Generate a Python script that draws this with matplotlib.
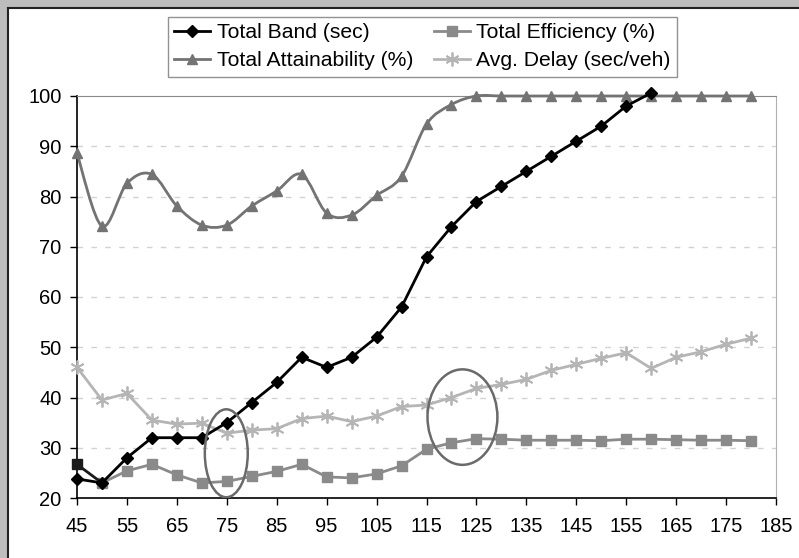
import matplotlib
matplotlib.use("Agg")
import matplotlib.pyplot as plt
from matplotlib.patches import Ellipse, Rectangle, PathPatch
from matplotlib.path import Path
from matplotlib.lines import Line2D

plt.rcParams['font.family'] = ['Liberation Sans', 'DejaVu Sans']

x = [45, 50, 55, 60, 65, 70, 75, 80, 85, 90, 95, 100, 105, 110, 115, 120,
     125, 130, 135, 140, 145, 150, 155, 160, 165, 170, 175, 180]

band_x = x[:24]
band = [23.8, 23.0, 28.0, 32.0, 32.0, 32.0, 35.0, 39.0, 43.0, 48.0, 46.0, 48.0,
        52.0, 58.0, 68.0, 74.0, 79.0, 82.0, 85.0, 88.0, 91.0, 94.0, 98.0, 100.6]

efficiency = [26.7, 23.0, 25.4, 26.7, 24.6, 23.0, 23.3, 24.3, 25.3, 26.7, 24.2, 24.0,
              24.8, 26.4, 29.7, 31.0, 31.8, 31.7, 31.5, 31.5, 31.5, 31.4, 31.7, 31.7,
              31.6, 31.5, 31.5, 31.4]

attainability = [88.6, 74.1, 82.6, 84.4, 78.1, 74.3, 74.3, 78.1, 81.1, 84.4, 76.7, 76.3,
                 80.2, 84.0, 94.4, 98.3, 100, 100, 100, 100, 100, 100, 100, 100,
                 100, 100, 100, 100]

delay = [46.0, 39.5, 40.8, 35.5, 34.7, 34.9, 32.9, 33.5, 33.8, 35.8, 36.3, 35.2,
         36.3, 38.2, 38.5, 40.0, 41.8, 42.6, 43.6, 45.4, 46.6, 47.8, 48.9, 45.8,
         48.0, 49.1, 50.6, 51.8]

xticks = list(range(45, 186, 10))
yticks = list(range(20, 101, 10))


def smooth_path(xs, ys):
    """Excel-style smoothed line through the data points (cubic Bezier segments)."""
    n = len(xs)
    verts = [(xs[0], ys[0])]
    codes = [Path.MOVETO]
    for i in range(n - 1):
        i0 = max(i - 1, 0)
        i3 = min(i + 2, n - 1)
        c1 = (xs[i] + (xs[i + 1] - xs[i0]) / 6.0, ys[i] + (ys[i + 1] - ys[i0]) / 6.0)
        c2 = (xs[i + 1] - (xs[i3] - xs[i]) / 6.0, ys[i + 1] - (ys[i3] - ys[i]) / 6.0)
        verts += [c1, c2, (xs[i + 1], ys[i + 1])]
        codes += [Path.CURVE4] * 3
    return Path(verts, codes)


fig = plt.figure(figsize=(7.99, 5.58), dpi=100)
fig.patch.set_facecolor('#bdbdbd')

bg = fig.add_axes([0, 0, 1, 1], zorder=-5)
bg.set_xlim(0, 799)
bg.set_ylim(558, 0)
bg.axis('off')
bg.add_patch(Rectangle((8, 8), 799, 558, facecolor='white', edgecolor='none'))
bg.plot([8, 8], [8, 558], color='#222222', lw=1.5)
bg.plot([8, 799], [8, 8], color='#222222', lw=1.5)

ax = fig.add_axes([77/799, 1 - 498/558, (776 - 77)/799, (498 - 96)/558], zorder=2)
ax.set_facecolor('white')

c_band, c_att, c_eff, c_del = 'black', '#737373', '#8a8a8a', '#b5b5b5'

# Total Band (straight segments)
ax.plot(band_x, band, color=c_band, lw=2, marker='D', ms=6.5, zorder=6, clip_on=False)

# Total Attainability (smoothed)
ax.add_patch(PathPatch(smooth_path(x, attainability), facecolor='none', edgecolor=c_att,
                       lw=2, zorder=4, clip_on=False, capstyle='round', joinstyle='round'))
ax.plot(x, attainability, ls='none', marker='^', ms=7, color=c_att, zorder=4.5, clip_on=False)

# Total Efficiency (first point drawn dark as in the source)
ax.plot(x[1:], efficiency[1:], color=c_eff, lw=2, marker='s', ms=7, zorder=4, clip_on=False)
ax.plot(x[:2], efficiency[:2], color='#1a1a1a', lw=2, zorder=4.2, clip_on=False)
ax.plot(x[:1], efficiency[:1], ls='none', color='#1a1a1a', marker='s', ms=7, zorder=4.3,
        clip_on=False)

# Avg. Delay
ax.plot(x, delay, color=c_del, lw=2, marker=(6, 2, 0), ms=10, mew=1.3, zorder=3, clip_on=False)

handles = [
    Line2D([], [], color=c_band, lw=2, marker='D', ms=6.5, label='Total Band (sec)'),
    Line2D([], [], color=c_att, lw=2, marker='^', ms=7, label='Total Attainability (%)'),
    Line2D([], [], color=c_eff, lw=2, marker='s', ms=7, label='Total Efficiency (%)'),
    Line2D([], [], color=c_del, lw=2, marker=(6, 2, 0), ms=10, mew=1.3, label='Avg. Delay (sec/veh)'),
]

ax.add_patch(Ellipse((74.9, 28.9), 8.6, 17.5, fill=False, edgecolor='#6a6a6a', lw=1.8, zorder=7))
ax.add_patch(Ellipse((122.2, 36.1), 14, 19, fill=False, edgecolor='#6a6a6a', lw=1.8, zorder=7))

ax.set_xlim(45, 185)
ax.set_ylim(20, 100)
ax.set_xticks(xticks)
ax.set_yticks(yticks)
ax.tick_params(axis='both', labelsize=14.5, length=5, width=1, direction='out', colors='black', pad=6)
ax.tick_params(axis='x', pad=9)

for y in yticks[1:-1]:
    ax.axhline(y, color='#d2d2d2', lw=1, ls=(0, (4, 6)), zorder=1)

ax.spines['left'].set_color('black')
ax.spines['bottom'].set_color('black')
ax.spines['left'].set_linewidth(1.2)
ax.spines['bottom'].set_linewidth(1.2)
ax.spines['top'].set_color('#8a8a8a')
ax.spines['right'].set_color('#b0b0b0')

leg = fig.legend(handles=handles, ncol=2, loc='upper left',
                 bbox_to_anchor=(168/799, 1 - 17/558), fontsize=15.2,
                 frameon=True, fancybox=False, edgecolor='#777777',
                 handlelength=1.7, handletextpad=0.3, columnspacing=1.0,
                 borderpad=0.3, labelspacing=0.42, borderaxespad=0)
leg.get_frame().set_linewidth(1.0)

fig.savefig('out.png', dpi=100, facecolor=fig.get_facecolor())
